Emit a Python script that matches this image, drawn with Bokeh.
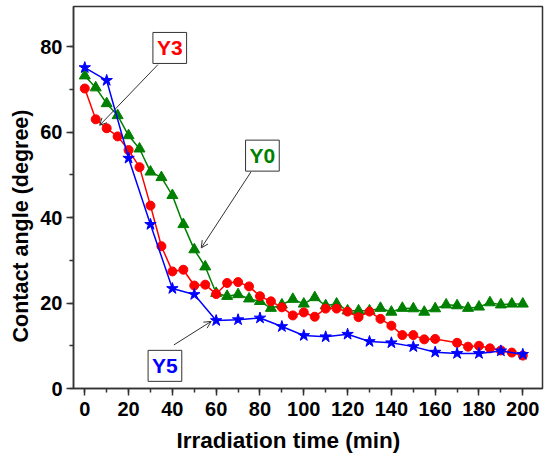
from bokeh.plotting import figure
from bokeh.models import Range1d, FixedTicker, Label, Arrow, OpenHead, Title
from bokeh.embed import file_html
from bokeh.resources import INLINE

# ---- data ----
time_y3 = [0, 5, 10, 15, 20, 25, 30, 35, 40, 45, 50, 55, 60, 65, 70, 75, 80, 85, 90, 95,
           100, 105, 110, 115, 120, 125, 130, 135, 140, 145, 150, 155, 160,
           170, 175, 180, 185, 190, 195, 200]
angle_y3 = [70.2, 63.0, 60.9, 59.0, 55.8, 51.8, 42.8, 33.3, 27.4, 27.8, 24.1, 24.3, 22.1,
            24.7, 24.9, 23.9, 21.6, 20.4, 19.0, 17.1, 17.8, 16.8, 18.7, 18.7, 18.0, 16.7,
            18.0, 16.3, 14.7, 12.5, 12.5, 11.5, 11.6, 10.7, 9.8, 10.0, 9.4, 8.9, 8.4, 7.7]

time_y0 = list(range(0, 201, 5))
angle_y0 = [73.2, 70.4, 66.7, 63.9, 59.2, 56.1, 50.7, 49.4, 45.2, 38.4, 32.5, 28.5, 22.3,
            21.6, 22.0, 21.0, 20.4, 18.8, 19.6, 20.9, 19.8, 21.3, 19.4, 19.8, 18.2, 18.2,
            18.2, 18.8, 17.9, 18.8, 18.7, 17.9, 18.7, 19.6, 19.4, 18.8, 19.1, 20.1, 19.6,
            19.8, 19.8]

time_y5 = list(range(0, 201, 10))
angle_y5 = [75.1, 72.1, 53.9, 38.4, 23.4, 22.0, 15.9, 16.1, 16.5, 14.5, 12.4, 12.1, 12.7,
            11.0, 10.7, 9.8, 8.5, 8.2, 8.2, 8.8, 8.0]

x_ticks = list(range(0, 201, 20))
y_ticks = [0, 20, 40, 60, 80]
x_title = "Irradiation time (min)"
y_title = "Contact angle (degree)"

FONT = "Liberation Sans"
AXC = "#333333"

p = figure(width=544, height=460, output_backend="svg", toolbar_location=None,
           x_range=Range1d(-5.15, 209), y_range=Range1d(0, 89.4),
           min_border_left=73, min_border_right=2, min_border_top=6, min_border_bottom=72)
p.grid.visible = False
p.outline_line_color = AXC
p.outline_line_width = 1.5
p.background_fill_color = "white"
p.border_fill_color = "white"

# series
p.line(time_y0, angle_y0, color="#008000", line_width=1.5)
p.scatter(time_y0, angle_y0, marker="triangle", size=11, color="#008000")
p.line(time_y3, angle_y3, color="#FF0000", line_width=1.5)
p.scatter(time_y3, angle_y3, marker="circle", size=9, color="#FF0000")
p.line(time_y5, angle_y5, color="#0000FF", line_width=1.5)
p.scatter(time_y5, angle_y5, marker="star", size=12, color="#0000FF")

# axes
for ax in (p.xaxis[0], p.yaxis[0]):
    ax.axis_line_color = AXC
    ax.axis_line_width = 1.5
    ax.major_tick_line_color = AXC
    ax.minor_tick_line_color = AXC
    ax.major_tick_line_width = 1.5
    ax.minor_tick_line_width = 1.5
    ax.major_tick_in = 0
    ax.major_tick_out = 7
    ax.minor_tick_in = 0
    ax.minor_tick_out = 4
    ax.major_label_text_font = FONT
    ax.major_label_text_font_style = "bold"
    ax.major_label_text_font_size = "20px"
    ax.major_label_text_color = "black"

p.xaxis.ticker = FixedTicker(ticks=x_ticks, minor_ticks=list(range(0, 211, 10)))
p.yaxis.ticker = FixedTicker(ticks=y_ticks, minor_ticks=list(range(0, 91, 10)))
p.xaxis.major_label_standoff = 6
p.yaxis.major_label_standoff = 4

# axis titles (slightly off-centre as in the original)
p.add_layout(Title(text=x_title, align="left", offset=103, standoff=14,
                   text_font=FONT, text_font_style="bold", text_font_size="22.5px",
                   text_color="black"), "below")
p.add_layout(Title(text=y_title, align="left", offset=46, standoff=9,
                   text_font=FONT, text_font_style="bold", text_font_size="21.5px",
                   text_color="black"), "left")

# annotations
def tag(x, y, txt, color):
    p.add_layout(Label(x=x, y=y, text=txt, text_color=color, text_font=FONT,
                       text_font_style="bold", text_font_size="21px",
                       text_align="center", text_baseline="middle",
                       background_fill_color="white", border_line_color=AXC,
                       border_line_width=1, padding=4))

def arrow(x0, y0, x1, y1):
    p.add_layout(Arrow(end=OpenHead(size=7, line_color=AXC, line_width=1),
                       x_start=x0, y_start=y0, x_end=x1, y_end=y1,
                       line_color=AXC, line_width=1))

arrow(33.4, 75.8, 6.8, 61.6)
arrow(75.9, 50.7, 53.2, 32.9)
arrow(40.7, 10.2, 57.7, 15.7)
tag(38.8, 79.7, "Y3", "#FF0000")
tag(81.1, 54.5, "Y0", "#008000")
tag(36.6, 5.3, "Y5", "#0000FF")

open("out.html", "w").write(file_html(p, INLINE))
